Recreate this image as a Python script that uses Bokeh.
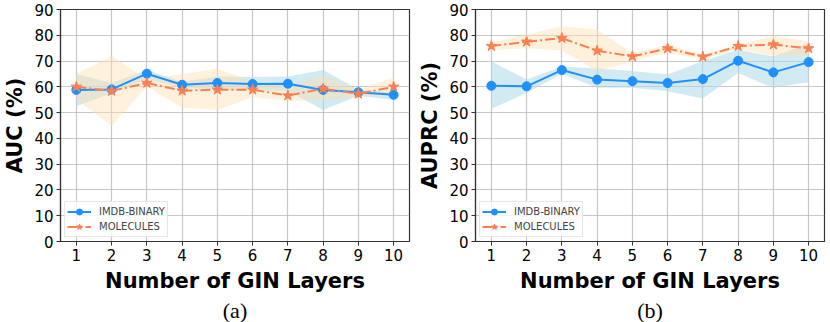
from bokeh.plotting import figure
from bokeh.layouts import row
from bokeh.models import Title, Legend, LegendItem, FixedTicker
from bokeh.embed import file_html
from bokeh.resources import INLINE

layers = [1, 2, 3, 4, 5, 6, 7, 8, 9, 10]

# (a) AUC
auc_imdb = [58.8, 59.0, 65.1, 60.8, 61.5, 61.1, 61.2, 58.8, 57.9, 56.9]
auc_imdb_hi = [65.0, 61.5, 66.5, 62.0, 64.0, 63.8, 64.0, 66.5, 59.0, 58.0]
auc_imdb_lo = [52.5, 57.5, 63.0, 59.5, 59.0, 58.5, 58.5, 51.0, 56.5, 55.0]
auc_mol = [60.0, 58.4, 61.5, 58.5, 58.9, 58.9, 56.6, 59.3, 57.3, 60.0]
auc_mol_hi = [65.0, 72.0, 63.0, 65.0, 67.0, 62.0, 60.0, 64.5, 59.0, 63.5]
auc_mol_lo = [55.0, 45.0, 60.0, 52.0, 51.0, 56.0, 54.5, 55.0, 56.0, 57.0]

# (b) AUPRC
auprc_imdb = [60.4, 60.2, 66.5, 62.8, 62.2, 61.5, 63.0, 70.1, 65.6, 69.6]
auprc_imdb_hi = [69.8, 62.8, 67.9, 67.1, 66.1, 64.8, 70.0, 74.4, 71.8, 77.0]
auprc_imdb_lo = [51.5, 57.6, 65.1, 59.6, 59.6, 58.3, 55.5, 65.4, 59.6, 61.8]
auprc_mol = [75.8, 77.5, 78.9, 74.0, 71.8, 74.9, 71.7, 75.8, 76.4, 74.9]
auprc_mol_hi = [77.3, 80.3, 83.5, 82.2, 73.1, 76.3, 72.5, 76.3, 79.8, 77.6]
auprc_mol_lo = [74.4, 75.0, 74.1, 66.0, 69.9, 73.3, 70.5, 74.7, 72.1, 72.1]

y_ticks = [0, 10, 20, 30, 40, 50, 60, 70, 80, 90]

BLUE = "#1E90FF"
ORANGE = "#FF7F50"
BLUE_BAND = "#add8e6"
ORANGE_BAND = "#ffe0b0"


def make_panel(ylabel, caption, imdb, imdb_hi, imdb_lo, mol, mol_hi, mol_lo, left_border):
    p = figure(output_backend="svg", toolbar_location=None,
               frame_width=349, frame_height=232,
               x_range=(0.55, 10.45), y_range=(0, 90),
               min_border_top=9, min_border_left=left_border, min_border_right=6,
               min_border_bottom=0)
    p.varea(x=layers, y1=imdb_lo, y2=imdb_hi, fill_color=BLUE_BAND, fill_alpha=0.55)
    p.varea(x=layers, y1=mol_lo, y2=mol_hi, fill_color=ORANGE_BAND, fill_alpha=0.45)
    l1 = p.line(layers, imdb, line_color=BLUE, line_width=2)
    s1 = p.scatter(layers, imdb, marker="circle", size=9, fill_color=BLUE, line_color=BLUE)
    l2 = p.line(layers, mol, line_color=ORANGE, line_width=2, line_dash="10 3 2 3")
    s2 = p.scatter(layers, mol, marker="star", size=11, fill_color=ORANGE, line_color=ORANGE)

    legend = Legend(items=[LegendItem(label="IMDB-BINARY", renderers=[l1, s1]),
                           LegendItem(label="MOLECULES", renderers=[l2, s2])],
                    location=(4, 4), label_text_font="DejaVu Sans",
                    label_text_font_size="10px", glyph_width=24, glyph_height=15,
                    label_height=15, spacing=0, padding=2, margin=0,
                    border_line_color="#d0d0d0", border_line_width=1,
                    background_fill_alpha=0.8, label_standoff=8)
    p.add_layout(legend, "center")

    p.xaxis.ticker = FixedTicker(ticks=layers)
    p.yaxis.ticker = FixedTicker(ticks=y_ticks)
    p.xaxis.axis_label = "Number of GIN Layers"
    p.yaxis.axis_label = ylabel
    for ax in (p.xaxis, p.yaxis):
        ax.axis_label_text_font = "DejaVu Sans"
        ax.axis_label_text_font_style = "bold"
        ax.axis_label_text_font_size = "21px"
        ax.axis_label_text_color = "black"
        ax.major_label_text_font = "DejaVu Sans"
        ax.major_label_text_font_size = "15px"
        ax.major_label_text_color = "black"
        ax.axis_line_color = "#333333"
        ax.axis_line_width = 1.2
        ax.major_tick_line_color = "#333333"
        ax.major_tick_in = 0
        ax.major_tick_out = 4
        ax.minor_tick_line_color = None
        ax.major_label_standoff = 3
    p.xaxis.axis_label_standoff = 5
    p.yaxis.axis_label_standoff = 4
    p.xgrid.ticker = FixedTicker(ticks=layers)
    p.ygrid.ticker = FixedTicker(ticks=y_ticks)
    p.grid.grid_line_color = "#b0b0b0"
    p.grid.grid_line_width = 1.2
    p.grid.grid_line_alpha = 0.7
    p.outline_line_color = "#333333"
    p.outline_line_width = 1.2
    p.outline_line_alpha = 1.0
    p.background_fill_color = "white"
    p.border_fill_color = "white"
    p.add_layout(Title(text=caption, align="center", text_font="Liberation Serif",
                       text_font_size="22px", text_font_style="normal",
                       text_color="black", standoff=0), "below")
    return p


p1 = make_panel("AUC (%)", "(a)", auc_imdb, auc_imdb_hi, auc_imdb_lo,
                auc_mol, auc_mol_hi, auc_mol_lo, 49)
p2 = make_panel("AUPRC (%)", "(b)", auprc_imdb, auprc_imdb_hi, auprc_imdb_lo,
                auprc_mol, auprc_mol_hi, auprc_mol_lo, 49)

layout = row(p1, p2)
open("out.html", "w").write(file_html(layout, INLINE))
